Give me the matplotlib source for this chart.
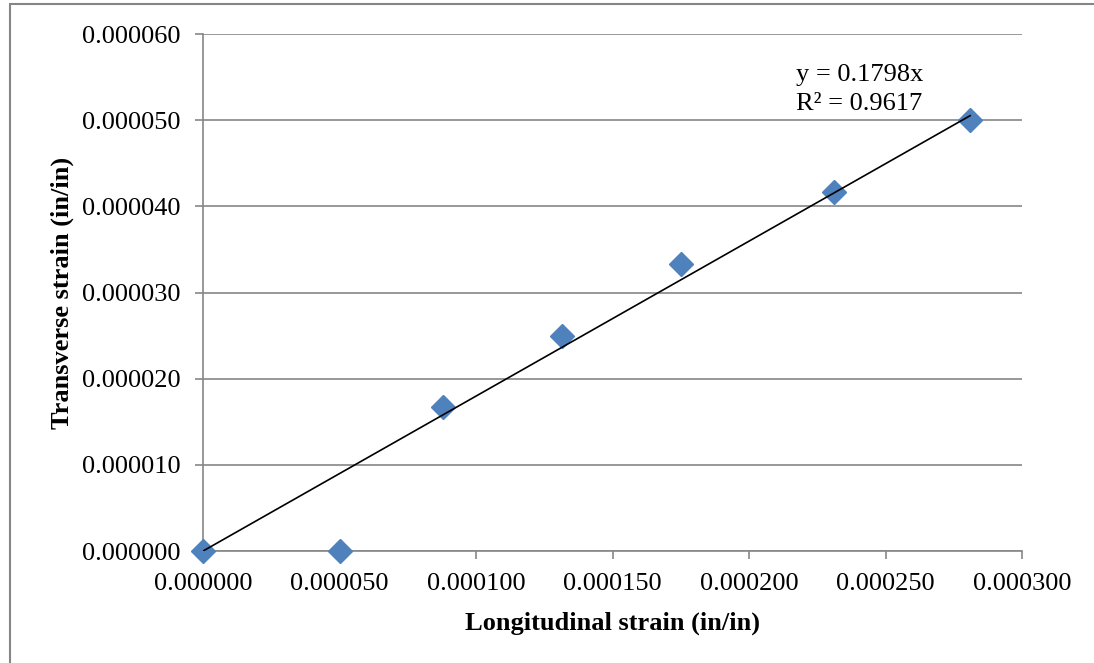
import matplotlib.pyplot as plt
from matplotlib.patches import Rectangle
from matplotlib.ticker import FormatStrFormatter

# longitudinal vs transverse strain readings
long_strain = [0.0, 0.0000502, 0.0000879, 0.0001315, 0.000175, 0.0002311, 0.000281]
trans_strain = [0.0, 0.0, 0.00001667, 0.000025, 0.00003333, 0.00004167, 0.00005]
slope = 0.1798     # linear fit through origin
r_squared = 0.9617

plt.rcParams['font.family'] = ['Liberation Serif', 'DejaVu Serif']
grey = '#868686'

fig = plt.figure(figsize=(10.94, 6.63), dpi=100)
ax = fig.add_axes([0.1856, 0.1689, 0.9342 - 0.1856, 0.9487 - 0.1689])

# trendline
fit_x = [0.0, max(long_strain)]
fit_y = [slope * v for v in fit_x]
ax.plot(fit_x, fit_y, color='black', lw=1.2, zorder=4)

ax.plot(long_strain, trans_strain, linestyle='none', marker='D', ms=12,
        color='#4F81BD', markeredgecolor='#4F81BD', zorder=3, clip_on=False)

ax.set_xlim(0, 0.0003)
ax.set_ylim(0, 0.00006)
ax.set_xticks([0.00005 * i for i in range(7)])
ax.set_yticks([0.00001 * i for i in range(7)])
ax.xaxis.set_major_formatter(FormatStrFormatter('%.6f'))
ax.yaxis.set_major_formatter(FormatStrFormatter('%.6f'))

ax.grid(axis='y', color=grey, lw=1.2)
ax.set_axisbelow(True)
for side in ['top', 'right']:
    ax.spines[side].set_visible(False)
for side in ['left', 'bottom']:
    ax.spines[side].set_color(grey)
    ax.spines[side].set_linewidth(1.2)
ax.tick_params(axis='both', color=grey, width=1.2, length=6, labelsize=19)
ax.tick_params(axis='x', pad=10)
ax.tick_params(axis='y', pad=10)

ax.set_xlabel('Longitudinal strain (in/in)', fontsize=19, fontweight='bold', labelpad=12)
ax.set_ylabel('Transverse strain (in/in)', fontsize=19, fontweight='bold', labelpad=6)

ax.text(0.0002172, 0.0000565, 'y = %.4fx\nR² = %.4f' % (slope, r_squared),
        fontsize=19, va='top', ha='left', linespacing=1.4)

# chart frame
fig.patches.append(Rectangle((9.5 / 1094, -0.1), 1.2, 1 - 4.5 / 663 + 0.1,
                             transform=fig.transFigure, fill=False,
                             edgecolor=grey, lw=1.5))

fig.savefig('out.png', dpi=100)
